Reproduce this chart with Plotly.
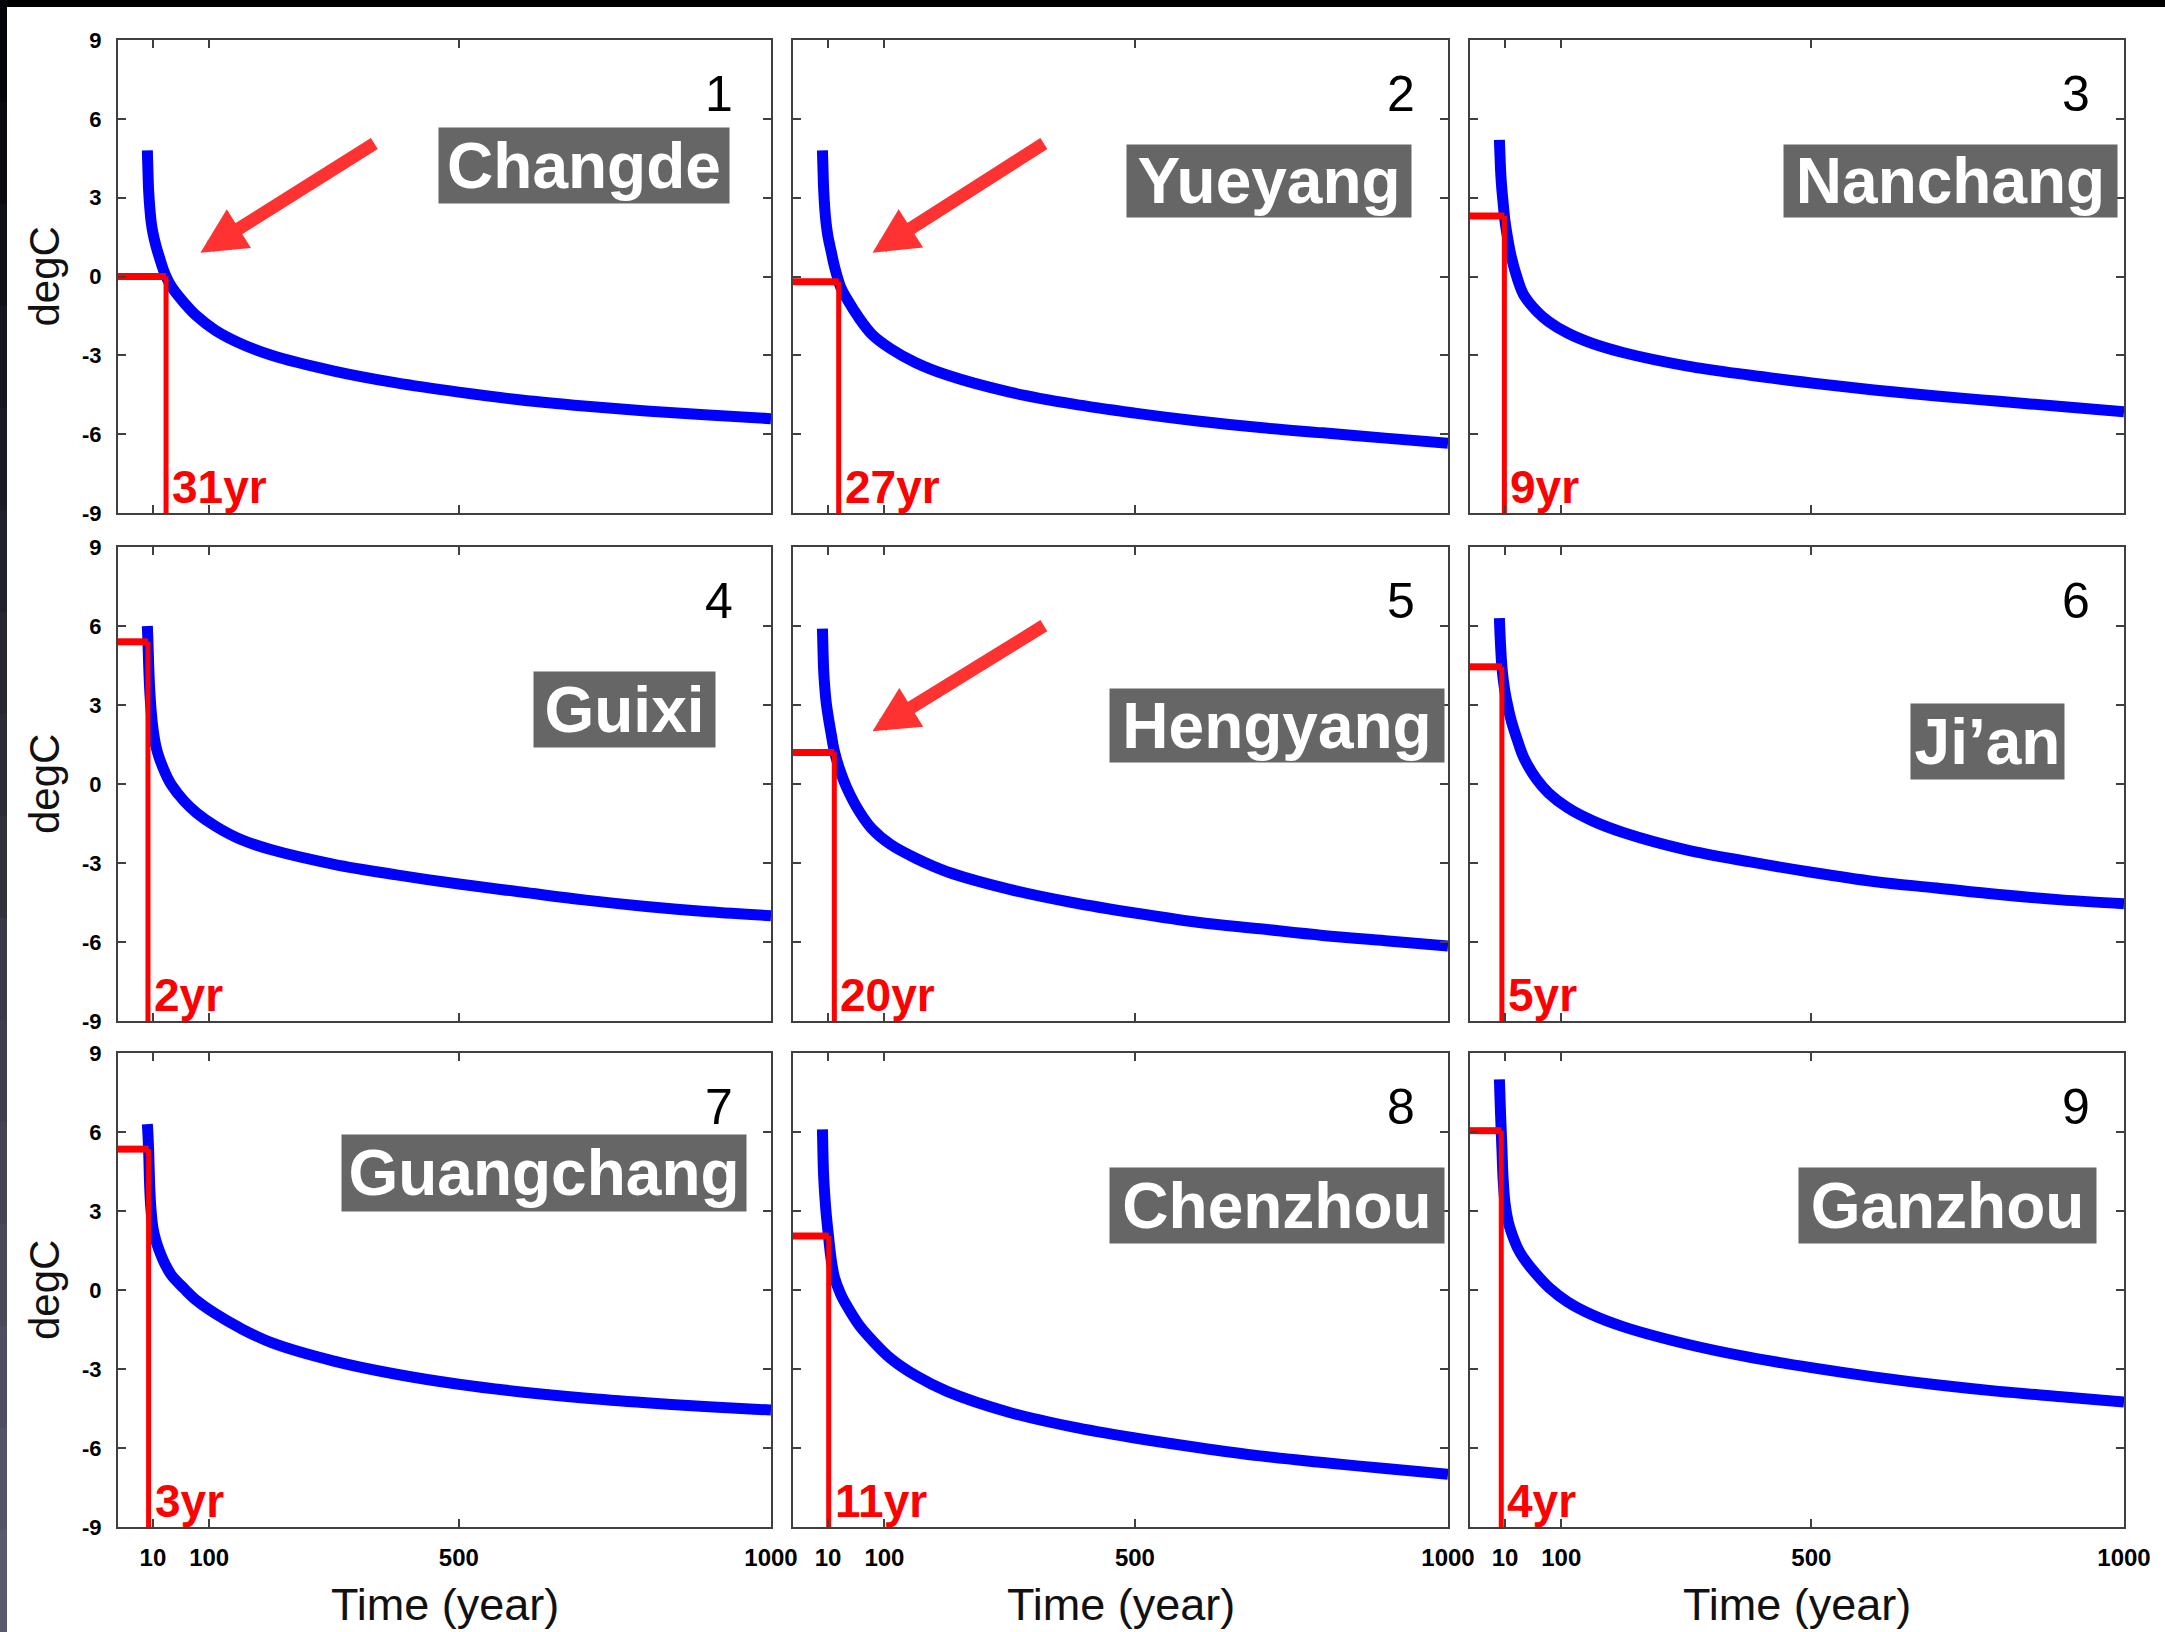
import plotly.graph_objects as go

# ---------------- data ----------------
CITIES = ["Changde", "Yueyang", "Nanchang", "Guixi", "Hengyang", "Ji’an",
          "Guangchang", "Chenzhou", "Ganzhou"]
PANEL_NUMBERS = ["1", "2", "3", "4", "5", "6", "7", "8", "9"]

YEARS = [1, 2, 3, 5, 7, 10, 15, 20, 30, 40, 60, 80, 110, 150, 200, 300, 400, 500, 600, 700, 800, 900, 1000]

T_CHANGDE = [4.8, 4.0, 3.3, 2.6, 2.1, 1.65, 1.15, 0.75, 0.05, -0.4, -1.0, -1.5, -2.05, -2.55, -3.0, -3.6, -4.05, -4.4, -4.7, -4.93, -5.12, -5.27, -5.41]
T_YUEYANG = [4.8, 4.0, 3.3, 2.5, 2.0, 1.5, 0.95, 0.4, -0.4, -0.85, -1.6, -2.2, -2.75, -3.28, -3.75, -4.4, -4.85, -5.2, -5.5, -5.75, -5.95, -6.15, -6.35]
T_NANCHANG = [5.2, 4.6, 4.0, 3.3, 2.8, 2.1, 1.35, 0.75, -0.1, -0.7, -1.3, -1.72, -2.15, -2.55, -2.9, -3.4, -3.75, -4.05, -4.32, -4.55, -4.75, -4.95, -5.15]
T_GUIXI = [6.0, 5.4, 4.6, 3.5, 2.8, 2.1, 1.4, 1.0, 0.4, -0.05, -0.65, -1.1, -1.6, -2.1, -2.5, -3.05, -3.45, -3.8, -4.1, -4.4, -4.65, -4.85, -5.0]
T_HENGYANG = [5.9, 5.0, 4.3, 3.6, 3.1, 2.6, 1.9, 1.25, 0.45, -0.15, -1.05, -1.7, -2.3, -2.82, -3.33, -4.0, -4.5, -4.9, -5.25, -5.5, -5.75, -5.95, -6.15]
T_JIAN = [6.3, 5.7, 5.2, 4.45, 4.0, 3.5, 2.9, 2.4, 1.65, 1.0, 0.2, -0.35, -0.9, -1.4, -1.85, -2.5, -2.95, -3.35, -3.7, -3.95, -4.2, -4.4, -4.55]
T_GUANGCHANG = [6.3, 5.9, 5.35, 3.8, 3.0, 2.35, 1.85, 1.5, 0.95, 0.55, 0.05, -0.4, -0.9, -1.45, -2.0, -2.7, -3.2, -3.58, -3.87, -4.1, -4.28, -4.43, -4.56]
T_CHENZHOU = [6.1, 5.0, 4.3, 3.5, 2.9, 2.2, 1.15, 0.5, -0.15, -0.6, -1.35, -1.9, -2.6, -3.25, -3.85, -4.65, -5.2, -5.62, -5.98, -6.3, -6.55, -6.78, -7.0]
T_GANZHOU = [8.0, 7.3, 6.6, 5.4, 4.2, 3.3, 2.6, 2.2, 1.6, 1.2, 0.6, 0.1, -0.45, -0.95, -1.4, -2.05, -2.55, -2.95, -3.3, -3.6, -3.85, -4.05, -4.25]

SERIES = [T_CHANGDE, T_YUEYANG, T_NANCHANG, T_GUIXI, T_HENGYANG, T_JIAN,
          T_GUANGCHANG, T_CHENZHOU, T_GANZHOU]

THRESHOLDS = [0.0, -0.2, 2.3, 5.4, 1.2, 4.45, 5.35, 2.05, 6.05]
CROSS_YEARS = [31, 27, 9, 2, 20, 5, 3, 11, 4]

X_TICKS = [10, 100, 500, 1000]
X_TICK_TEXT = ["10", "100", "500", "1000"]
Y_TICKS = [-9, -6, -3, 0, 3, 6, 9]
Y_TICK_TEXT = ["-9", "-6", "-3", "0", "3", "6", "9"]

# ---------------- layout / style ----------------
W, H = 2165, 1632
X_RANGE = [-46, 1000]
Y_RANGE = [-9, 9]
COL_PX = [(118, 771), (793, 1448), (1470, 2124)]
ROW_PX = [(40, 513), (547, 1021), (1053, 1527)]

# city label boxes: (center x in domain, center y in domain, width px, height px)
LABEL_BOX = [(0.714, 0.735, 290, 75), (0.727, 0.702, 284, 72), (0.735, 0.702, 333, 72),
             (0.776, 0.657, 181, 75), (0.739, 0.623, 334, 73), (0.791, 0.590, 153, 75),
             (0.652, 0.747, 404, 76), (0.739, 0.678, 334, 75), (0.730, 0.678, 297, 75)]
NUM_X = [0.945, 0.952, 0.951]
NUM_Y = 0.886

# arrows: panel index -> (tail x, tail y, tip x, tip y) in axis units
ARROWS = {0: (367, 5.1, 86, 0.9), 1: (357, 5.1, 81, 0.9), 4: (357, 6.05, 81, 2.0)}

FONT = "Liberation Sans, Arial, sans-serif"
BLUE = "#0000ff"
RED = "#ff0000"
ARROW_RED = "#ff3232"
FRAME = "#404040"

fig = go.Figure()
annotations = []
layout_axes = {}

for i in range(9):
    r, c = divmod(i, 3)
    n = i + 1
    sfx = "" if n == 1 else str(n)
    xa, ya = "x" + sfx, "y" + sfx
    xdom = [COL_PX[c][0] / W, COL_PX[c][1] / W]
    ydom = [1 - ROW_PX[r][1] / H, 1 - ROW_PX[r][0] / H]

    layout_axes["xaxis" + sfx] = dict(
        domain=xdom, anchor=ya, range=X_RANGE, tickvals=X_TICKS, ticktext=X_TICK_TEXT,
        ticks="inside", ticklen=8, tickwidth=2, tickcolor=FRAME,
        showline=True, linecolor=FRAME, linewidth=2, mirror="ticks",
        showgrid=False, zeroline=False, showticklabels=(r == 2), automargin=False,
        tickfont=dict(family=FONT, size=24, color="black", weight="bold"),
        ticklabelstandoff=8, fixedrange=True)
    layout_axes["yaxis" + sfx] = dict(
        domain=ydom, anchor=xa, range=Y_RANGE, tickvals=Y_TICKS, ticktext=Y_TICK_TEXT,
        ticks="inside", ticklen=8, tickwidth=2, tickcolor=FRAME,
        showline=True, linecolor=FRAME, linewidth=2, mirror="ticks",
        showgrid=False, zeroline=False, showticklabels=(c == 0), automargin=False,
        tickfont=dict(family=FONT, size=22, color="black", weight="bold"),
        ticklabelstandoff=10, fixedrange=True)

    # blue cooling curve
    fig.add_trace(go.Scatter(
        x=YEARS, y=SERIES[i], mode="lines", xaxis=xa, yaxis=ya,
        line=dict(color=BLUE, width=11, shape="spline", smoothing=1.0),
        showlegend=False, hoverinfo="skip"))
    # red threshold lines: horizontal then vertical
    fig.add_trace(go.Scatter(
        x=[X_RANGE[0], CROSS_YEARS[i]], y=[THRESHOLDS[i], THRESHOLDS[i]],
        mode="lines", xaxis=xa, yaxis=ya,
        line=dict(color=RED, width=7), showlegend=False, hoverinfo="skip"))
    fig.add_trace(go.Scatter(
        x=[CROSS_YEARS[i], CROSS_YEARS[i]], y=[THRESHOLDS[i], Y_RANGE[0]],
        mode="lines", xaxis=xa, yaxis=ya,
        line=dict(color=RED, width=5), showlegend=False, hoverinfo="skip"))

    # year label
    annotations.append(dict(
        x=CROSS_YEARS[i], y=-8.0, xref=xa, yref=ya, text=f"{CROSS_YEARS[i]}yr",
        showarrow=False, xanchor="left", yanchor="middle", xshift=4,
        font=dict(family=FONT, size=46, color=RED, weight="bold")))

    # city label box
    bx, by, bw, bh = LABEL_BOX[i]
    annotations.append(dict(
        x=bx, y=by, xref=xa + " domain", yref=ya + " domain", text=CITIES[i],
        showarrow=False, xanchor="center", yanchor="middle",
        width=bw, height=bh, bgcolor="#666666", borderpad=0, align="center",
        valign="middle", font=dict(family=FONT, size=64, color="white", weight="bold")))

    # panel number
    annotations.append(dict(
        x=NUM_X[c], y=NUM_Y, xref=xa + " domain", yref=ya + " domain",
        text=PANEL_NUMBERS[i], showarrow=False, xanchor="right", yanchor="middle",
        font=dict(family=FONT, size=50, color="black")))

    # arrows
    if i in ARROWS:
        tx, ty, hx, hy = ARROWS[i]
        annotations.append(dict(
            x=hx, y=hy, ax=tx, ay=ty, xref=xa, yref=ya, axref=xa, ayref=ya,
            text="", showarrow=True, arrowhead=2, arrowsize=0.7, arrowwidth=13,
            arrowcolor=ARROW_RED, standoff=0))

# row titles "degC"
for r in range(3):
    yc = 1 - (ROW_PX[r][0] + ROW_PX[r][1]) / 2 / H
    annotations.append(dict(
        x=44 / W, y=yc, xref="paper", yref="paper", text="degC", textangle=-90,
        showarrow=False, xanchor="center", yanchor="middle",
        font=dict(family=FONT, size=42, color="#111111")))

# column titles "Time (year)"
for c in range(3):
    xc = (COL_PX[c][0] + COL_PX[c][1]) / 2 / W
    annotations.append(dict(
        x=xc, y=1 - 1604 / H, xref="paper", yref="paper", text="Time (year)",
        showarrow=False, xanchor="center", yanchor="middle",
        font=dict(family=FONT, size=45, color="#111111")))

# frame decorations: black band on top, dark gradient strip on the left
shapes = [dict(type="rect", xref="paper", yref="paper", x0=0, x1=1,
               y0=1 - 7 / H, y1=1, fillcolor="black", line=dict(width=0), layer="above")]
N_SEG = 16
for k in range(N_SEG):
    t = k / (N_SEG - 1)
    col = "rgb(%d,%d,%d)" % (int(5 + t * 85), int(5 + t * 85), int(10 + t * 100))
    shapes.append(dict(type="rect", xref="paper", yref="paper", x0=0, x1=7 / W,
                       y0=1 - (k + 1) / N_SEG, y1=1 - k / N_SEG,
                       fillcolor=col, line=dict(width=0), layer="above"))

fig.update_layout(
    width=W, height=H, margin=dict(l=0, r=0, t=0, b=0, pad=0, autoexpand=False),
    paper_bgcolor="white", plot_bgcolor="white",
    annotations=annotations, shapes=shapes, showlegend=False,
    **layout_axes)

fig.write_html("out.html", config={"displayModeBar": False})
